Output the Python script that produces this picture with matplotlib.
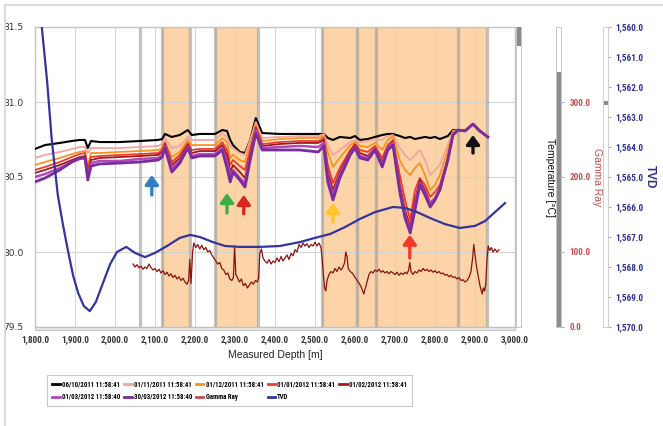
import matplotlib
matplotlib.use('Agg')
import matplotlib.pyplot as plt
from matplotlib.patches import Rectangle
from matplotlib.lines import Line2D
from matplotlib.ticker import FixedLocator, FuncFormatter

# ---------------- data ----------------
depth = [1800, 1825, 1862, 1892, 1912, 1925, 1932, 1940, 1962, 2012,
         2062, 2108, 2118, 2125, 2142, 2162, 2182, 2192, 2212, 2250,
         2268, 2280, 2288, 2295, 2312, 2325, 2338, 2352, 2368, 2412,
         2462, 2508, 2522, 2532, 2545, 2562, 2588, 2600, 2612, 2632,
         2650, 2668, 2682, 2695, 2712, 2725, 2738, 2750, 2762, 2775,
         2788, 2800, 2812, 2832, 2845, 2858, 2875, 2895, 2912, 2932]

t_20111006 = [80.687, 80.713, 80.727, 80.74, 80.747, 80.747, 80.693, 80.74, 80.733, 80.733,
              80.74, 80.747, 80.753, 80.787, 80.767, 80.78, 80.813, 80.78, 80.787, 80.787,
              80.813, 80.807, 80.747, 80.713, 80.667, 80.66, 80.747, 80.893, 80.793, 80.787,
              80.787, 80.787, 80.787, 80.76, 80.747, 80.767, 80.76, 80.773, 80.747, 80.753,
              80.767, 80.78, 80.787, 80.787, 80.773, 80.76, 80.767, 80.753, 80.76, 80.767,
              80.76, 80.767, 80.753, 80.773, 80.813, 80.813, 80.807, 80.853, 80.807, 80.767]
t_20111101 = [80.627, 80.647, 80.667, 80.687, 80.70, 80.70, 80.66, 80.693, 80.693, 80.693,
              80.70, 80.707, 80.72, 80.76, 80.693, 80.707, 80.767, 80.747, 80.747, 80.747,
              80.793, 80.767, 80.707, 80.693, 80.66, 80.647, 80.747, 80.867, 80.76, 80.767,
              80.773, 80.773, 80.787, 80.713, 80.647, 80.68, 80.733, 80.747, 80.733, 80.74,
              80.753, 80.747, 80.773, 80.78, 80.693, 80.647, 80.613, 80.647, 80.68, 80.613,
              80.513, 80.547, 80.58, 80.713, 80.807, 80.813, 80.807, 80.853, 80.807, 80.767]
t_20111201 = [80.58, 80.60, 80.627, 80.653, 80.667, 80.673, 80.58, 80.66, 80.66, 80.667,
              80.673, 80.68, 80.693, 80.733, 80.633, 80.667, 80.747, 80.713, 80.713, 80.713,
              80.76, 80.733, 80.627, 80.647, 80.613, 80.60, 80.713, 80.847, 80.74, 80.753,
              80.76, 80.76, 80.773, 80.667, 80.567, 80.627, 80.713, 80.733, 80.707, 80.70,
              80.727, 80.68, 80.747, 80.773, 80.613, 80.547, 80.513, 80.56, 80.593, 80.513,
              80.413, 80.447, 80.513, 80.68, 80.80, 80.813, 80.807, 80.853, 80.807, 80.767]
t_20120101 = [80.547, 80.567, 80.60, 80.633, 80.653, 80.66, 80.547, 80.633, 80.64, 80.647,
              80.653, 80.66, 80.68, 80.727, 80.60, 80.647, 80.727, 80.68, 80.687, 80.687,
              80.733, 80.68, 80.58, 80.613, 80.573, 80.547, 80.68, 80.833, 80.72, 80.733,
              80.74, 80.74, 80.76, 80.58, 80.46, 80.56, 80.68, 80.72, 80.68, 80.667,
              80.707, 80.627, 80.713, 80.747, 80.513, 80.347, 80.213, 80.413, 80.493, 80.447,
              80.367, 80.40, 80.447, 80.627, 80.793, 80.813, 80.807, 80.853, 80.807, 80.767]
t_20120201 = [80.527, 80.547, 80.58, 80.613, 80.633, 80.64, 80.533, 80.613, 80.627, 80.633,
              80.64, 80.647, 80.667, 80.72, 80.58, 80.627, 80.713, 80.66, 80.673, 80.673,
              80.713, 80.647, 80.533, 80.58, 80.533, 80.493, 80.647, 80.827, 80.707, 80.72,
              80.727, 80.727, 80.747, 80.533, 80.413, 80.533, 80.667, 80.713, 80.66, 80.64,
              80.693, 80.60, 80.70, 80.733, 80.447, 80.28, 80.167, 80.347, 80.48, 80.413,
              80.327, 80.36, 80.427, 80.613, 80.787, 80.813, 80.807, 80.853, 80.807, 80.767]
t_20120301 = [80.50, 80.52, 80.56, 80.60, 80.62, 80.627, 80.507, 80.593, 80.607, 80.607,
              80.62, 80.627, 80.647, 80.707, 80.56, 80.607, 80.70, 80.64, 80.653, 80.653,
              80.693, 80.60, 80.493, 80.547, 80.493, 80.46, 80.627, 80.813, 80.693, 80.70,
              80.707, 80.70, 80.727, 80.493, 80.38, 80.513, 80.653, 80.70, 80.64, 80.627,
              80.687, 80.58, 80.693, 80.727, 80.413, 80.247, 80.14, 80.313, 80.46, 80.393,
              80.313, 80.36, 80.413, 80.613, 80.787, 80.813, 80.807, 80.853, 80.807, 80.767]
t_20120330 = [80.467, 80.493, 80.547, 80.60, 80.627, 80.627, 80.48, 80.573, 80.587, 80.593,
              80.60, 80.613, 80.633, 80.693, 80.533, 80.593, 80.693, 80.627, 80.64, 80.64,
              80.68, 80.56, 80.467, 80.533, 80.48, 80.433, 80.613, 80.793, 80.68, 80.68,
              80.68, 80.667, 80.707, 80.467, 80.347, 80.493, 80.647, 80.693, 80.627, 80.613,
              80.68, 80.567, 80.68, 80.713, 80.40, 80.227, 80.127, 80.28, 80.447, 80.38,
              80.30, 80.347, 80.413, 80.613, 80.78, 80.813, 80.807, 80.853, 80.807, 80.767]

series_labels = ["06/10/2011 11:58:41", "01/11/2011 11:58:41", "01/12/2011 11:58:41",
                 "01/01/2012 11:58:41", "01/02/2012 11:58:41", "01/03/2012 11:58:40",
                 "30/03/2012 11:58:40"]

gr_depth = [2045, 2050, 2055, 2060, 2065, 2070, 2075, 2080, 2085, 2090, 2095, 2100, 2105, 2110,
            2115, 2120, 2125, 2130, 2135, 2140, 2145, 2150, 2155, 2160, 2165, 2170, 2175, 2180,
            2184, 2187, 2190, 2194, 2197, 2202, 2207, 2212, 2217, 2222, 2227, 2232, 2237, 2242,
            2247, 2252, 2257, 2262, 2267, 2272, 2277, 2282, 2287, 2292, 2296, 2299, 2302, 2306,
            2311, 2316, 2321, 2326, 2331, 2336, 2341, 2346, 2351, 2356, 2359, 2362, 2366, 2370,
            2375, 2380, 2385, 2390, 2395, 2400, 2405, 2410, 2415, 2420, 2425, 2430, 2435, 2440,
            2445, 2450, 2455, 2460, 2465, 2470, 2475, 2480, 2485, 2490, 2495, 2500, 2505, 2510,
            2515, 2518, 2521, 2524, 2527, 2530, 2535, 2540, 2545, 2550, 2555, 2560, 2565, 2570,
            2574, 2577, 2580, 2583, 2588, 2593, 2598, 2603, 2608, 2613, 2618, 2622, 2626, 2630,
            2635, 2640, 2645, 2650, 2655, 2660, 2665, 2670, 2675, 2680, 2685, 2690, 2695, 2700,
            2705, 2710, 2715, 2720, 2725, 2730, 2734, 2737, 2740, 2745, 2750, 2755, 2760, 2765,
            2770, 2775, 2780, 2785, 2790, 2795, 2800, 2805, 2810, 2815, 2820, 2825, 2830, 2835,
            2840, 2845, 2850, 2855, 2860, 2865, 2870, 2875, 2880, 2885, 2890, 2894, 2897, 2900,
            2904, 2908, 2912, 2915, 2918, 2921, 2924, 2927, 2930, 2933, 2937, 2941, 2945, 2950,
            2955, 2960]
gr_value = [84, 80, 83, 79, 81, 77, 80, 78, 84, 79, 76, 78, 74, 77,
            72, 75, 70, 73, 68, 71, 66, 69, 64, 67, 62, 65, 60, 57,
            62, 90, 58, 100, 112, 106, 110, 104, 109, 103, 106, 100, 102, 96,
            92, 88, 84, 86, 78, 76, 70, 72, 64, 62, 66, 108, 70, 66,
            60, 64, 55, 58, 52, 56, 60, 57, 62, 60, 66, 98, 104, 92,
            88, 85, 90, 84, 88, 86, 92, 87, 94, 88, 92, 96, 90, 98,
            95, 103, 100, 110, 106, 112, 108, 111, 106, 110, 108, 113, 108, 112,
            106, 90, 70, 52, 48, 62, 70, 74, 72, 78, 74, 80, 76, 80,
            86, 100, 94, 78, 74, 72, 68, 64, 60, 56, 50, 44, 52, 60,
            70, 74, 72, 76, 74, 77, 73, 75, 72, 74, 71, 74, 72, 70,
            73, 69, 72, 70, 73, 71, 76, 86, 74, 70, 74, 72, 76, 74,
            78, 75, 77, 74, 76, 73, 75, 72, 74, 71, 72, 69, 70, 67,
            69, 66, 67, 64, 66, 62, 63, 60, 62, 66, 74, 92, 110, 96,
            80, 68, 56, 50, 44, 52, 48, 58, 90, 108, 102, 106, 100, 104,
            100, 103]

tvd_depth = [1817, 1830, 1842, 1857, 1870, 1882, 1895, 1908, 1922, 1937, 1952, 1970, 1988,
             2005, 2028, 2050, 2075, 2100, 2130, 2162, 2188, 2212, 2245, 2275, 2312, 2362,
             2412, 2462, 2500, 2538, 2575, 2612, 2650, 2695, 2725, 2755, 2788, 2825, 2862,
             2900, 2925, 2950, 2975]
tvd_value = [1560.0, 1561.77, 1563.77, 1565.6, 1566.6, 1567.43, 1568.27, 1568.87, 1569.3,
             1569.47, 1569.17, 1568.53, 1567.9, 1567.5, 1567.33, 1567.53, 1567.67, 1567.53,
             1567.3, 1567.03, 1566.93, 1567.0, 1567.17, 1567.3, 1567.33, 1567.33, 1567.3,
             1567.17, 1567.03, 1566.9, 1566.67, 1566.4, 1566.17, 1566.0, 1566.03, 1566.17,
             1566.37, 1566.57, 1566.7, 1566.63, 1566.47, 1566.17, 1565.87]

zone_start = [2117.5, 2250, 2517.5]
zone_end = [2187.5, 2357.5, 2930]
marker_depths = [2062.5, 2117.5, 2187.5, 2250, 2357.5, 2517.5, 2605, 2652.5, 2857.5, 2930]

arrow_depth = [2092, 2280, 2322, 2545, 2737, 2895]
arrow_head = [80.513, 80.393, 80.38, 80.327, 80.115, 80.78]
arrow_tail = [80.38, 80.26, 80.255, 80.20, 79.96, 80.66]
arrow_colors = ['#2F80C3', '#3DAE49', '#D9261C', '#FFC52B', '#EF3B2C', '#111111']

x_ticks = [1800, 1900, 2000, 2100, 2200, 2300, 2400, 2500, 2600, 2700, 2800, 2900, 3000]
t_ticks = [79.5, 80.0, 80.5, 81.0, 81.5]
gr_ticks = [0, 100, 200, 300]
tvd_ticks = [1560, 1561, 1562, 1563, 1564, 1565, 1566, 1567, 1568, 1569, 1570]

# ---------------- styling ----------------
NARROW = ['Roboto Condensed', 'Liberation Sans Narrow', 'Liberation Sans', 'DejaVu Sans']
SANS = ['Liberation Sans', 'DejaVu Sans']
TICK_FS = 6.6
W, H = 663, 426
def fx(px): return px / W
def fy(py): return 1 - py / H

fig = plt.figure(figsize=(6.63, 4.26), dpi=100)
fig.patch.set_facecolor('white')

ax = fig.add_axes([fx(35), fy(327), (515 - 35) / W, (327 - 27) / H])
ax.set_xlim(1800, 3000)
ax.set_ylim(79.5, 81.5)
ax.set_axisbelow(True)

for s, e in zip(zone_start, zone_end):
    ax.axvspan(s, e, color='#FCD4A7', zorder=0.2, lw=0)
for d in marker_depths:
    ax.axvline(d, color='#9A9A9A', alpha=0.6, lw=2.3, zorder=0.6)

ax.grid(True, color='#D4D4D4', lw=0.8)

temps = [t_20111006, t_20111101, t_20111201, t_20120101, t_20120201, t_20120301, t_20120330]
colors = ['#000000', '#F4A3A0', '#F7941D', '#EE3B2F', '#9E1B1B', '#B548B8', '#7A2C9E']
widths = [1.5, 1.3, 1.3, 1.3, 1.3, 1.8, 2.0]
handles = []
for tv, c, w, lab in zip(temps, colors, widths, series_labels):
    h, = ax.plot(depth, tv, color=c, lw=w, zorder=3, label=lab, solid_joinstyle='round')
    handles.append(h)

for d, hd, tl, c in zip(arrow_depth, arrow_head, arrow_tail, arrow_colors):
    ax.annotate('', xy=(d, hd), xytext=(d, tl),
                arrowprops=dict(arrowstyle='-|>,head_length=0.55,head_width=0.4',
                                lw=2.4, color=c, shrinkA=0, shrinkB=0, mutation_scale=10),
                zorder=6)

for sp in ax.spines.values():
    sp.set_color('#C4C4C4')
    sp.set_linewidth(1.0)

ax.xaxis.set_major_locator(FixedLocator(x_ticks))
ax.xaxis.set_major_formatter(FuncFormatter(lambda v, p: f"{v:,.1f}"))
ax.tick_params(axis='x', length=0, pad=6, labelsize=TICK_FS, colors='#333333')
for lbl in ax.get_xticklabels():
    lbl.set_family(NARROW); lbl.set_weight('bold')
ax.set_xlabel('Measured Depth [m]', fontsize=7.5, family=SANS, color='#222222')
ax.xaxis.label.set_va('center')
ax.xaxis.set_label_coords(0.5, -0.093)

ax.yaxis.tick_right()
ax.yaxis.set_major_locator(FixedLocator(t_ticks))
ax.yaxis.set_major_formatter(FuncFormatter(lambda v, p: f"{v:.1f}"))
ax.tick_params(axis='y', length=0, pad=8, labelsize=TICK_FS, colors='#333333')
for lbl in ax.get_yticklabels():
    lbl.set_family(NARROW); lbl.set_weight('bold')
ax.yaxis.set_label_position('right')
ax.set_ylabel('Temperature [°C]', rotation=270, fontsize=7.5, family=SANS, color='#111111')
ax.yaxis.label.set_va('center')
ax.yaxis.set_label_coords((550 - 35) / 480, 0.5)

# Gamma ray axis
ax_gr = ax.twinx()
ax_gr.set_ylim(0, 400)
hg, = ax_gr.plot(gr_depth, gr_value, color='#8B1212', lw=0.9, zorder=2, label='Gamma Ray')
for sp in ax_gr.spines.values():
    sp.set_visible(False)
ax_gr.spines['right'].set_position(('axes', (561 - 35) / 480))
ax_gr.yaxis.set_major_locator(FixedLocator(gr_ticks))
ax_gr.yaxis.set_major_formatter(FuncFormatter(lambda v, p: f"{v:.1f}"))
ax_gr.tick_params(axis='y', length=2, width=0.6, color='#999999', pad=4, labelsize=TICK_FS,
                  labelcolor='#C0504D')
for lbl in ax_gr.get_yticklabels():
    lbl.set_family(NARROW); lbl.set_weight('bold')
ax_gr.set_ylabel('Gamma Ray', rotation=270, fontsize=7.5, family=SANS, color='#C0504D')
ax_gr.yaxis.label.set_va('center')
ax_gr.yaxis.set_label_coords((597 - 35) / 480, 0.5)

# TVD axis
ax_tvd = ax.twinx()
ax_tvd.set_ylim(1570, 1560)
ht, = ax_tvd.plot(tvd_depth, tvd_value, color='#34349E', lw=1.6, zorder=2, label='TVD')
for sp in ax_tvd.spines.values():
    sp.set_visible(False)
ax_tvd.spines['right'].set_position(('axes', (608 - 35) / 480))
ax_tvd.yaxis.set_major_locator(FixedLocator(tvd_ticks))
ax_tvd.yaxis.set_major_formatter(FuncFormatter(lambda v, p: f"{v:,.1f}"))
ax_tvd.tick_params(axis='y', length=2, width=0.6, color='#999999', pad=3, labelsize=TICK_FS,
                   labelcolor='#2E3192')
for lbl in ax_tvd.get_yticklabels():
    lbl.set_family(NARROW); lbl.set_weight('bold')
ax_tvd.set_ylabel('TVD', rotation=270, fontsize=8.5, family=SANS, color='#2E3192', weight='bold')
ax_tvd.yaxis.label.set_va('center')
ax_tvd.yaxis.set_label_coords((650 - 35) / 480, 0.5)

# decorative scrollbars / frame (figure coordinates)
def frect(x0, y0, x1, y1, fc, ec, lw=0.6):
    fig.add_artist(Rectangle((fx(x0), fy(y1)), fx(x1) - fx(x0), fy(y0) - fy(y1),
                             transform=fig.transFigure, facecolor=fc, edgecolor=ec, lw=lw))
frect(516, 27, 521, 327, 'white', '#BDBDBD')
frect(516.5, 27, 520.5, 46, '#8A8A8A', 'none')
frect(35, 327, 515, 330, '#E3E3E3', '#BDBDBD')
frect(556, 27, 561, 327, 'white', '#BDBDBD')
frect(556.5, 72, 560.5, 327, '#8C8C8C', 'none')
frect(603, 27, 608, 327, 'white', '#C8C8C8')
frect(603.5, 101, 607.5, 105, '#8C8C8C', 'none')
fig.add_artist(Line2D([fx(5), 1], [fy(5), fy(5)], transform=fig.transFigure,
                      color='#DCDCDC', lw=1.5))
fig.add_artist(Line2D([fx(5), fx(5)], [fy(5), 0], transform=fig.transFigure,
                      color='#DCDCDC', lw=1.5))

# legend (row-major order in 5 columns)
all_h = handles + [hg, ht]
order = [0, 5, 1, 6, 2, 7, 3, 8, 4]
leg_h = [all_h[i] for i in order]
leg_proxies = [Line2D([], [], color=h.get_color(), lw=2.0) for h in leg_h]
leg_proxies[5].set_color('#C05050')
leg = fig.legend(leg_proxies, [h.get_label() for h in leg_h], ncol=5,
                 loc='upper left', bbox_to_anchor=(fx(44), fy(372)),
                 bbox_transform=fig.transFigure, frameon=True, fancybox=False,
                 edgecolor='#BBBBBB', handlelength=1.1, handletextpad=0.3,
                 columnspacing=0.6, borderpad=0.7, labelspacing=0.7,
                 prop={'family': NARROW, 'size': 4.9, 'weight': 'bold'})
leg.get_frame().set_linewidth(0.8)

fig.savefig('out.png', dpi=100, facecolor='white')
